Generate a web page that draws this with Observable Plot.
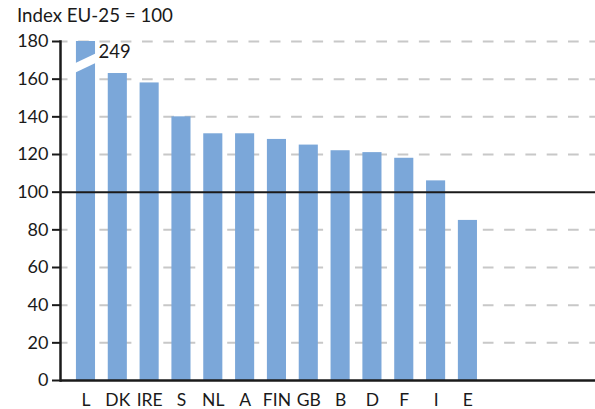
<!DOCTYPE html>
<html><head><meta charset="utf-8">
<script src="https://cdn.jsdelivr.net/npm/d3@7"></script>
<script src="https://cdn.jsdelivr.net/npm/@observablehq/plot@0.6"></script>
<style>
body{margin:0;background:#fff;font-family:Lato,sans-serif;}
#title{height:30px;font-size:18.7px;padding-left:17px;line-height:31px;color:#1a1a1a;}
</style></head><body>
<div id="title">Index EU-25 = 100</div>
<div id="chart"></div>
<script>
const categories = ["L","DK","IRE","S","NL","A","FIN","GB","B","D","F","I","E"];
const values = [249,163,158,140,131,131,128,125,122,121,118,106,85];
const yTicks = [0,20,40,60,80,100,120,140,160,180];
const yMax = 180;
const breakValue = 168.3;
const data = categories.map((c,i)=>({country:c, value:values[i]}));

const plot = Plot.plot({
  width: 595, height: 379,
  marginLeft: 60, marginRight: 0, marginTop: 11, marginBottom: 29,
  style: {fontFamily: "Lato, sans-serif", color: "#1a1a1a", background: "#fff"},
  x: {domain: categories, range: [63.2, 489.7], padding: 0.4, round: false, label: null},
  y: {domain: [0, yMax], label: null},
  marks: [
    Plot.ruleY(yTicks.filter(v => v > 0 && v !== 100), {stroke: "#c8c8c8", strokeWidth: 2, strokeDasharray: "10.7,10.6", strokeDashoffset: 3.2}),
    Plot.barY(data, {x: "country", y: d => Math.min(d.value, yMax), fill: "#7ba7d9"}),
    Plot.ruleY([100], {stroke: "#1a1a1a", strokeWidth: 2}),
    Plot.ruleY([0], {stroke: "#1a1a1a", strokeWidth: 2.5}),
    Plot.text(data.filter(d => d.value > yMax), {x: "country", y: 174.2, text: d => String(d.value), textAnchor: "start", dx: 12.5, fontSize: 18.5, fill: "#1a1a1a"}),
    Plot.axisY({ticks: yTicks, tickSize: 8, tickPadding: 4, fontSize: 18, strokeWidth: 2, stroke: "#1a1a1a", label: null}),
    Plot.axisX({tickSize: 0, tickPadding: 13.5, fontSize: 17.5, label: null}),
    Plot.frame({anchor: "left", stroke: "#1a1a1a", strokeWidth: 2.5})
  ]
});

const sx = plot.scale("x"), sy = plot.scale("y");
const bw = sx.bandwidth;
const svg = d3.select(plot);
data.filter(d => d.value > yMax).forEach(d => {
  const x0 = sx.apply(d.country) - 1, x1 = x0 + bw + 2;
  const xc = (x0 + x1) / 2, yc = sy.apply(breakValue);
  const s = 0.475, h = 4.7;
  const pts = [
    [x0, yc - h + s * (xc - x0)], [x1, yc - h - s * (x1 - xc)],
    [x1, yc + h - s * (x1 - xc)], [x0, yc + h + s * (xc - x0)]
  ];
  svg.append("polygon").attr("points", pts.map(p => p.join(",")).join(" ")).attr("fill", "#fff");
});
document.getElementById("chart").appendChild(plot);
</script>
</body></html>
